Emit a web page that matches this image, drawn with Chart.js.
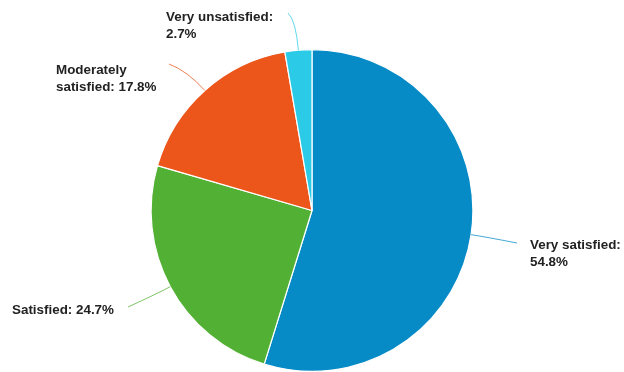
<!DOCTYPE html>
<html>
<head>
<meta charset="utf-8">
<script src="https://cdn.jsdelivr.net/npm/chart.js@4/dist/chart.umd.min.js"></script>
<style>
  html, body { margin: 0; padding: 0; background: #fff; }
  #wrap { width: 624px; height: 372px; }
</style>
</head>
<body>
<div id="wrap"><canvas id="c" width="624" height="372"></canvas></div>
<script>
// Satisfaction survey shares (percent)
const categories = ["Very satisfied", "Satisfied", "Moderately satisfied", "Very unsatisfied"];
const shares = [54.8, 24.7, 17.8, 2.7];
const sliceColors = ["#068BC6", "#52B135", "#EC561B", "#2BCBE8"];

// Label text broken into lines, built from the category and value
const labelLines = [
  [categories[0] + ":", shares[0].toFixed(1) + "%"],
  [categories[1] + ": " + shares[1].toFixed(1) + "%"],
  ["Moderately", "satisfied: " + shares[2].toFixed(1) + "%"],
  [categories[3] + ":", shares[3].toFixed(1) + "%"]
];

// Placement of each outside label: text origin, leader end point, bend length
const labelPlacement = [
  { x: 530, y: 245, endX: 517, endY: 243, bend: 14 },
  { x: 12,  y: 310, endX: 128, endY: 307, bend: 14 },
  { x: 56,  y: 70,  endX: 169, endY: 64,  bend: 26 },
  { x: 166, y: 17,  endX: 288, endY: 13,  bend: 30 }
];

const outsideLabels = {
  id: "outsideLabels",
  afterDatasetsDraw(chart) {
    const ctx = chart.ctx;
    const arcs = chart.getDatasetMeta(0).data;
    ctx.save();
    arcs.forEach((arc, i) => {
      const p = arc.getProps(["x", "y", "startAngle", "endAngle", "outerRadius"], true);
      const mid = (p.startAngle + p.endAngle) / 2;
      const dx = Math.cos(mid), dy = Math.sin(mid);
      const sx = p.x + dx * p.outerRadius;
      const sy = p.y + dy * p.outerRadius;
      const pl = labelPlacement[i];
      ctx.beginPath();
      ctx.moveTo(sx, sy);
      ctx.quadraticCurveTo(sx + dx * pl.bend, sy + dy * pl.bend, pl.endX, pl.endY);
      ctx.strokeStyle = sliceColors[i];
      ctx.globalAlpha = 0.75;
      ctx.lineWidth = 1;
      ctx.stroke();
      ctx.globalAlpha = 1;

      ctx.fillStyle = "#222222";
      ctx.font = "bold 13.4px 'Liberation Sans', Arial, sans-serif";
      ctx.textAlign = "left";
      ctx.textBaseline = "middle";
      labelLines[i].forEach((line, k) => {
        ctx.fillText(line, pl.x, pl.y + k * 17);
      });
    });
    ctx.restore();
  }
};

new Chart(document.getElementById("c"), {
  type: "pie",
  data: {
    labels: categories,
    datasets: [{
      data: shares,
      backgroundColor: sliceColors,
      borderColor: "#ffffff",
      borderWidth: 1.2
    }]
  },
  options: {
    responsive: false,
    animation: false,
    layout: { padding: { top: 49, bottom: 0, left: 150, right: 150 } },
    plugins: {
      legend: { display: false },
      tooltip: { enabled: false }
    }
  },
  plugins: [outsideLabels]
});
</script>
</body>
</html>
